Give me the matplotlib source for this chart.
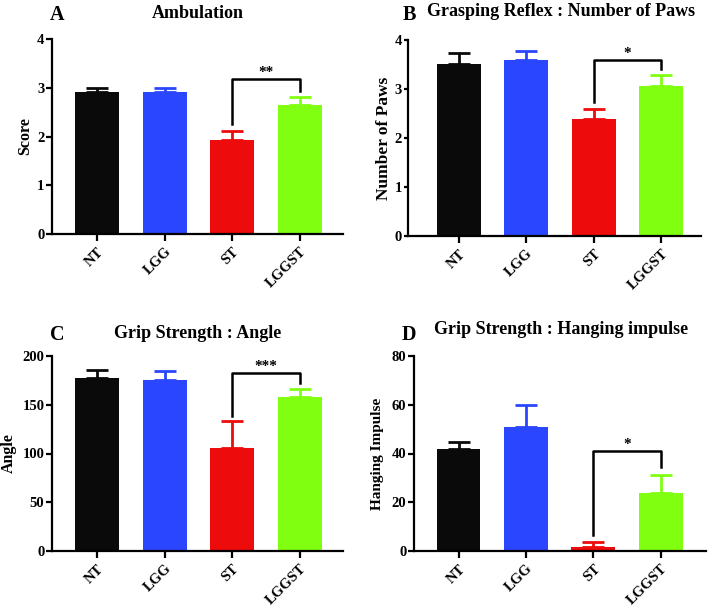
import matplotlib
matplotlib.use("Agg")
import matplotlib.pyplot as plt

plt.rcParams['font.family'] = ['Liberation Serif', 'DejaVu Serif']
plt.rcParams['font.weight'] = 'bold'

groups = ["NT", "LGG", "ST", "LGGST"]
colors = ["#0a0a0a", "#2a46ff", "#ee0b0b", "#80ff10"]

amb_mean = [2.92, 2.92, 1.92, 2.65]
amb_err = [0.08, 0.08, 0.19, 0.17]
paws_mean = [3.52, 3.59, 2.39, 3.06]
paws_err = [0.22, 0.19, 0.20, 0.23]
angle_mean = [177, 175.5, 106, 158]
angle_err = [8.5, 9, 27, 8]
hang_mean = [42.0, 50.8, 1.6, 23.6]
hang_err = [2.6, 8.9, 2.2, 7.7]

panels = [
    dict(letter="A", title="Ambulation", ylabel="Score", mean=amb_mean, err=amb_err,
         ymax=4, yticks=[0, 1, 2, 3, 4], br=(3.18, 2.25, 2.93), star="**"),
    dict(letter="B", title="Grasping Reflex : Number of Paws", ylabel="Number of Paws",
         mean=paws_mean, err=paws_err, ymax=4, yticks=[0, 1, 2, 3, 4],
         br=(3.6, 2.74, 3.41), star="*"),
    dict(letter="C", title="Grip Strength : Angle", ylabel="Angle", mean=angle_mean,
         err=angle_err, ymax=200, yticks=[0, 50, 100, 150, 200],
         br=(183, 138, 172), star="***"),
    dict(letter="D", title="Grip Strength : Hanging impulse", ylabel="Hanging Impulse",
         mean=hang_mean, err=hang_err, ymax=80, yticks=[0, 20, 40, 60, 80],
         br=(40.9, 6.5, 34.4), star="*"),
]

W, H = 708, 606
fig = plt.figure(figsize=(W / 100, H / 100), dpi=100)

# axes boxes in pixels: left, right, top, bottom
boxes = [(52, 343, 39, 234), (408, 701, 40, 236), (52, 343, 356, 551), (414, 706, 356, 551)]
xlims = [(-0.667, 3.64), (-0.75, 3.59), (-0.667, 3.64), (-0.66, 3.67)]
ylab_cx = [25, 384, 9, 377]
ylab_size = [11.5, 12.5, 11.5, 11]
ytick_len = [4, 3, 4, 4]
letter_pos = [(57, 15), (409, 15), (57, 335), (409, 335)]
title_pos = [(198, 13), (561, 11), (198, 333), (561, 329)]

for i, p in enumerate(panels):
    l, r, t, b = boxes[i]
    ax = fig.add_axes([l / W, 1 - b / H, (r - l) / W, (b - t) / H])
    x = list(range(len(groups)))
    ax.bar(x, p["mean"], width=0.65, color=colors, zorder=2)
    for xi, m, e, c in zip(x, p["mean"], p["err"], colors):
        ax.errorbar([xi], [m], yerr=[[0], [e]], fmt='none', ecolor=c,
                    elinewidth=2, capsize=8, capthick=2, zorder=1)
    top, lleg, rleg = p["br"]
    ax.plot([2, 2, 3, 3], [lleg, top, top, rleg], color="black", lw=1.8, zorder=3)
    ax.text(2.5, top, p["star"], ha="center", va="bottom", fontsize=11,
            fontweight="bold")
    ax.set_xlim(*xlims[i])
    ax.set_ylim(0, p["ymax"])
    ax.set_yticks(p["yticks"])
    ax.set_xticks(x)
    ax.set_xticklabels(groups, rotation=45, ha="right", rotation_mode="anchor",
                       fontsize=10.5, fontweight="bold")
    for lab in ax.get_yticklabels():
        lab.set_fontsize(10.5)
        lab.set_fontweight("bold")
    ax.spines["top"].set_visible(False)
    ax.spines["right"].set_visible(False)
    ax.spines["left"].set_linewidth(1.6)
    ax.spines["bottom"].set_linewidth(1.6)
    ax.tick_params(axis="y", width=1.6, length=ytick_len[i], pad=1.5)
    ax.tick_params(axis="x", width=1.6, length=5, pad=3)
    ax.set_ylabel(p["ylabel"], fontsize=ylab_size[i], fontweight="bold", va="center")
    ax.yaxis.set_label_coords((ylab_cx[i] - l) / (r - l), 0.5)
    lx, ly = letter_pos[i]
    fig.text(lx / W, 1 - ly / H, p["letter"], fontsize=14.5, fontweight="bold",
             ha="center", va="center")
    tx, ty = title_pos[i]
    fig.text(tx / W, 1 - ty / H, p["title"], fontsize=13, fontweight="bold",
             ha="center", va="center")

fig.savefig("out.png", dpi=100)
